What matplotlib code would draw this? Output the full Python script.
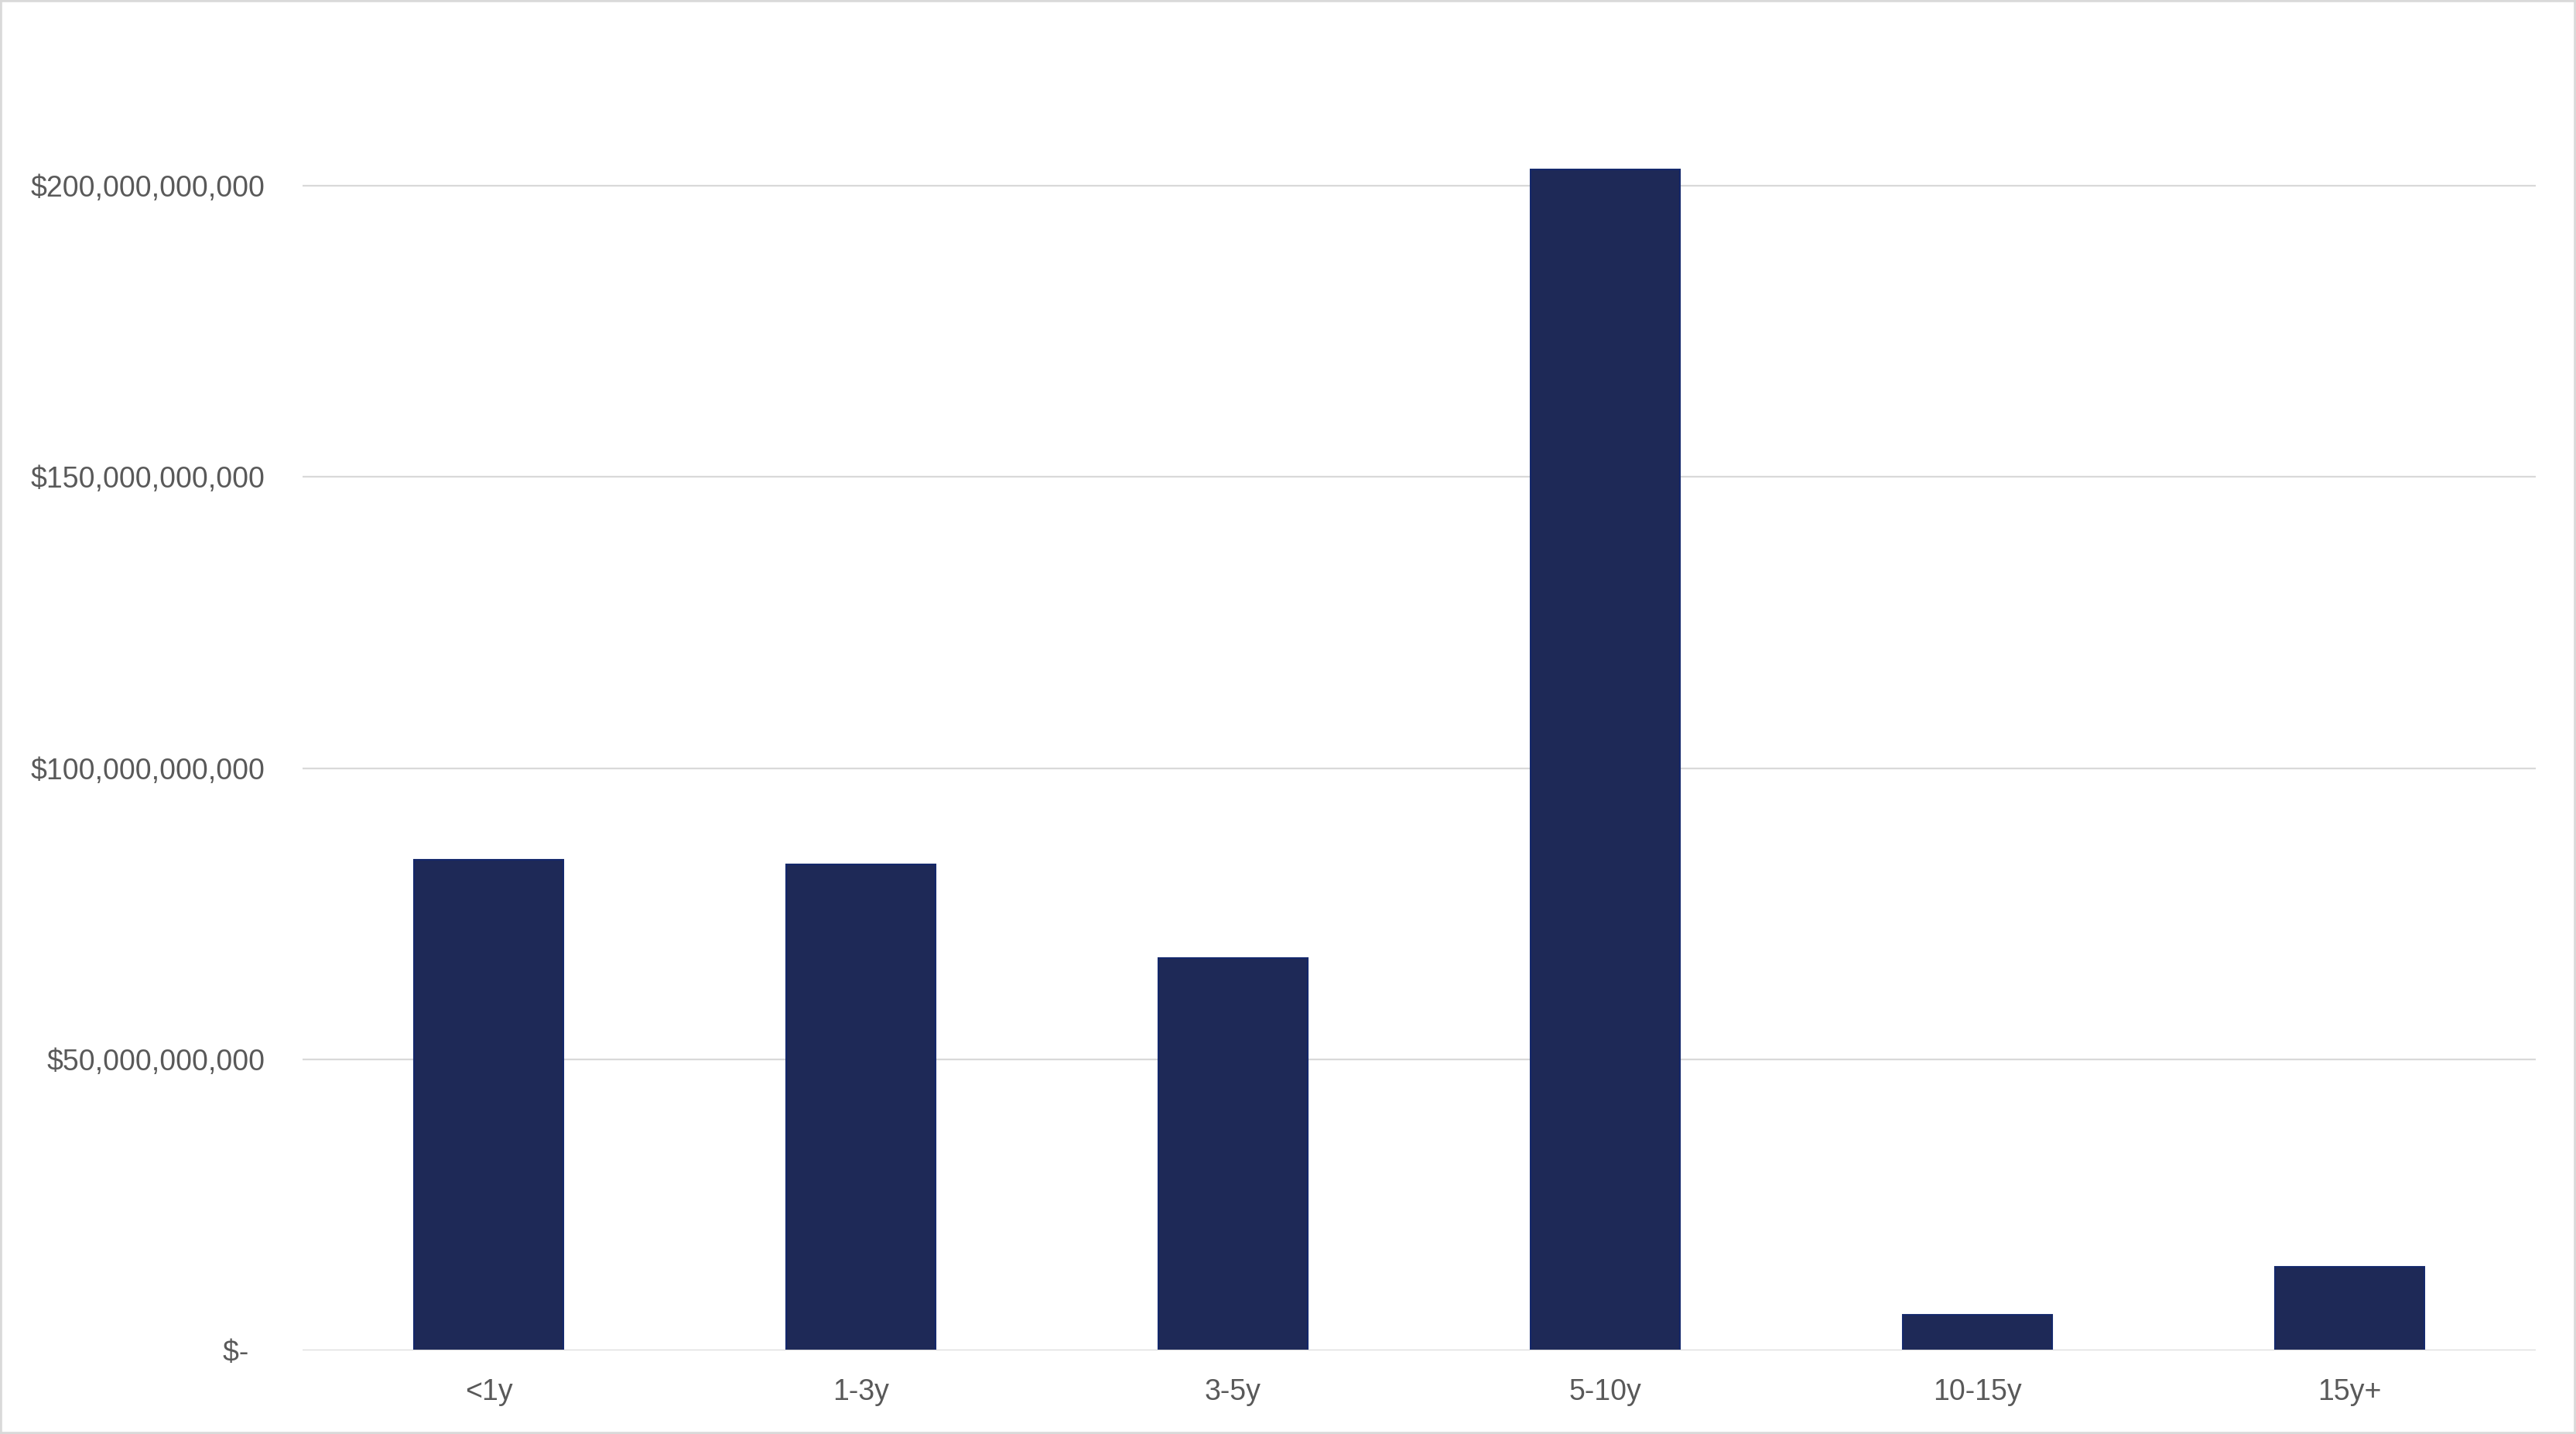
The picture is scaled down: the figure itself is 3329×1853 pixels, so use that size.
import matplotlib
matplotlib.use("Agg")
import matplotlib.pyplot as plt
from matplotlib.patches import Rectangle
from matplotlib.ticker import FuncFormatter

categories = ["<1y", "1-3y", "3-5y", "5-10y", "10-15y", "15y+"]
values = [84.2e9, 83.5e9, 67.4e9, 202.8e9, 6.1e9, 14.4e9]
yticks = [0, 50e9, 100e9, 150e9, 200e9]

plt.rcParams['font.family'] = ['Liberation Sans', 'DejaVu Sans']

fig = plt.figure(figsize=(33.29, 18.53), dpi=100)
W, H = 3329, 1853
left, right, top, bottom = 391, 3277, 52, 1745
ax = fig.add_axes([left / W, 1 - bottom / H, (right - left) / W, (bottom - top) / H])

x = range(len(categories))
ax.bar(x, values, width=0.4, color="#1e2957", edgecolor="#14286b", linewidth=1.5, zorder=3)

ax.set_xlim(-0.5, len(categories) - 0.5)
ax.set_ylim(0, 225e9)
ax.set_yticks(yticks)

def fmt(v, pos):
    if v == 0:
        return "$-  "
    return "${:,.0f}".format(v)

ax.yaxis.set_major_formatter(FuncFormatter(fmt))
ax.set_xticks(list(x))
ax.set_xticklabels(categories)

for s in ax.spines.values():
    s.set_visible(False)
ax.grid(axis="y", color="#d9d9d9", linewidth=1.6, zorder=0)
ax.axhline(0, color="#d9d9d9", linewidth=2.2, zorder=4)
ax.tick_params(axis="both", length=0, labelsize=27, colors="#595959")
ax.tick_params(axis="y", pad=35)
ax.tick_params(axis="x", pad=26)

fig.patches.append(Rectangle((0, 0), 1, 1, transform=fig.transFigure, fill=False,
                             edgecolor="#d9d9d9", linewidth=4, zorder=10))

fig.savefig("out.png", dpi=100)
